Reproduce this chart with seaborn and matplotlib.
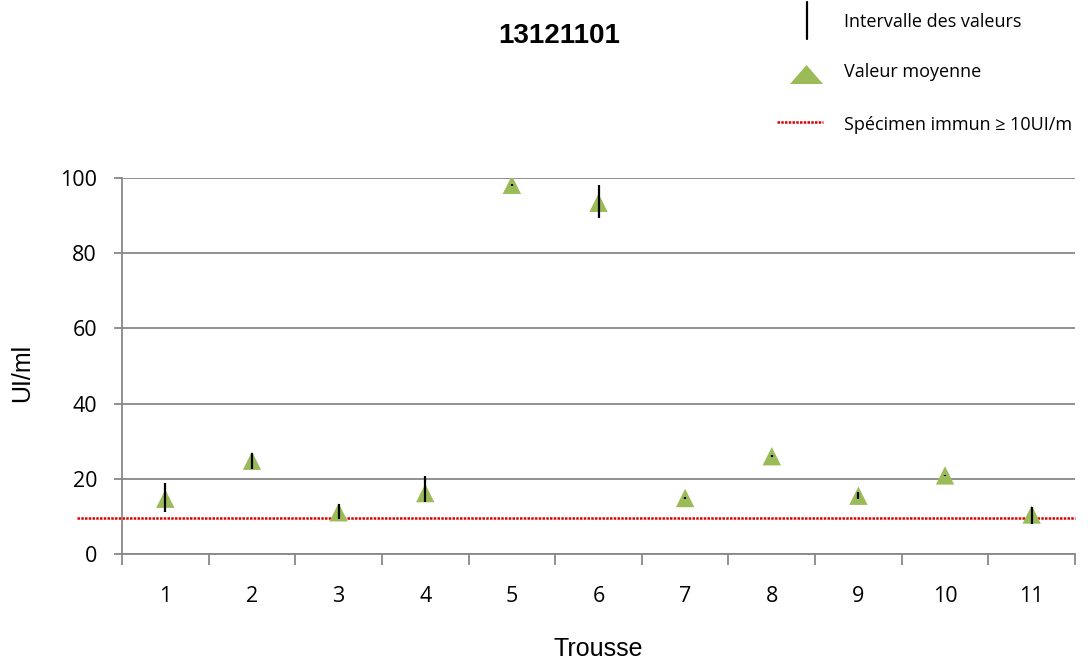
import matplotlib.pyplot as plt
import seaborn as sns
from matplotlib.lines import Line2D
from matplotlib.patches import Polygon

trousse = [1, 2, 3, 4, 5, 6, 7, 8, 9, 10, 11]
moyenne = [14.7, 24.8, 11.1, 16.2, 98.2, 93.4, 14.9, 26.0, 15.5, 20.9, 10.5]
val_min = [11.3, 22.7, 9.3, 13.7, 98.0, 89.4, 14.7, 25.8, 14.7, 20.7, 8.1]
val_max = [19.0, 26.8, 13.3, 20.8, 98.4, 98.1, 15.1, 26.2, 16.5, 21.1, 12.6]
seuil = 9.7

titre = "13121101"
legende = ["Intervalle des valeurs", "Valeur moyenne", "Spécimen immun ≥ 10UI/m"]

W, H = 1088, 661
GREEN = "#9BBB59"
GRAY = "#888888"

sns.set_style("white")
plt.rcParams["font.family"] = ["Open Sans", "DejaVu Sans"]
plt.rcParams["text.color"] = "black"

fig = plt.figure(figsize=(W / 100, H / 100), dpi=100)
ax = fig.add_axes([122 / W, 1 - 554 / H, (1075 - 122) / W, (554 - 178) / H])

ax.yaxis.grid(True, color=GRAY, lw=1.3)
ax.set_axisbelow(True)

sns.scatterplot(x=trousse, y=moyenne, marker="^", s=175, color=GREEN,
                edgecolor="none", ax=ax, zorder=3, legend=False)
ax.vlines(trousse, val_min, val_max, color="black", lw=1.6, zorder=4)
ax.axhline(seuil, xmin=-0.047, xmax=1, color="#E00000", lw=1.8,
           ls=(0, (1, 0.5)), clip_on=False, zorder=2)

ax.set_xlim(0.5, 11.5)
ax.set_ylim(0, 100)
ax.set_yticks(range(0, 101, 20))
ax.set_xticks(trousse)
ax.set_xticks([i + 0.5 for i in range(0, 12)], minor=True)
ax.tick_params(axis="x", which="major", length=0, pad=23, labelsize=15.5,
               labelcolor="black")
ax.tick_params(axis="x", which="minor", length=8, width=1.3, color=GRAY,
               direction="out", bottom=True)
ax.tick_params(axis="y", length=6, width=1.3, color=GRAY, direction="out",
               pad=12, labelsize=15.5, left=True, labelcolor="black")

for s in ["top", "right"]:
    ax.spines[s].set_visible(False)
for s in ["left", "bottom"]:
    ax.spines[s].set_color(GRAY)
    ax.spines[s].set_linewidth(1.3)

fig.text(559 / W, 1 - 43 / H, titre, ha="center", va="baseline",
         fontsize=20, fontweight="bold", family="Liberation Sans")
fig.text(598 / W, 1 - 656 / H, "Trousse", ha="center", va="baseline",
         fontsize=18, family="Liberation Sans")
fig.text(22 / W, 1 - 373 / H, "UI/ml", ha="center", va="center",
         rotation=90, fontsize=18, family="Liberation Sans")

# legende dessinee a la main en haut a droite
fig.add_artist(Line2D([807 / W, 807 / W], [1 - 2 / H, 1 - 39 / H],
                      transform=fig.transFigure, color="black", lw=1.6))
fig.add_artist(Polygon([(790 / W, 1 - 84 / H), (823 / W, 1 - 84 / H),
                        (806.5 / W, 1 - 65 / H)], closed=True,
                       transform=fig.transFigure, facecolor=GREEN,
                       edgecolor="none"))
fig.add_artist(Line2D([777 / W, 823 / W], [1 - 122 / H, 1 - 122 / H],
                      transform=fig.transFigure, color="#E00000", lw=1.8,
                      ls=(0, (1, 0.5))))
for txt, yc in zip(legende, [22, 72, 125]):
    fig.text(844 / W, 1 - yc / H, txt, ha="left", va="center", fontsize=13)

fig.savefig("out.png", dpi=100)
